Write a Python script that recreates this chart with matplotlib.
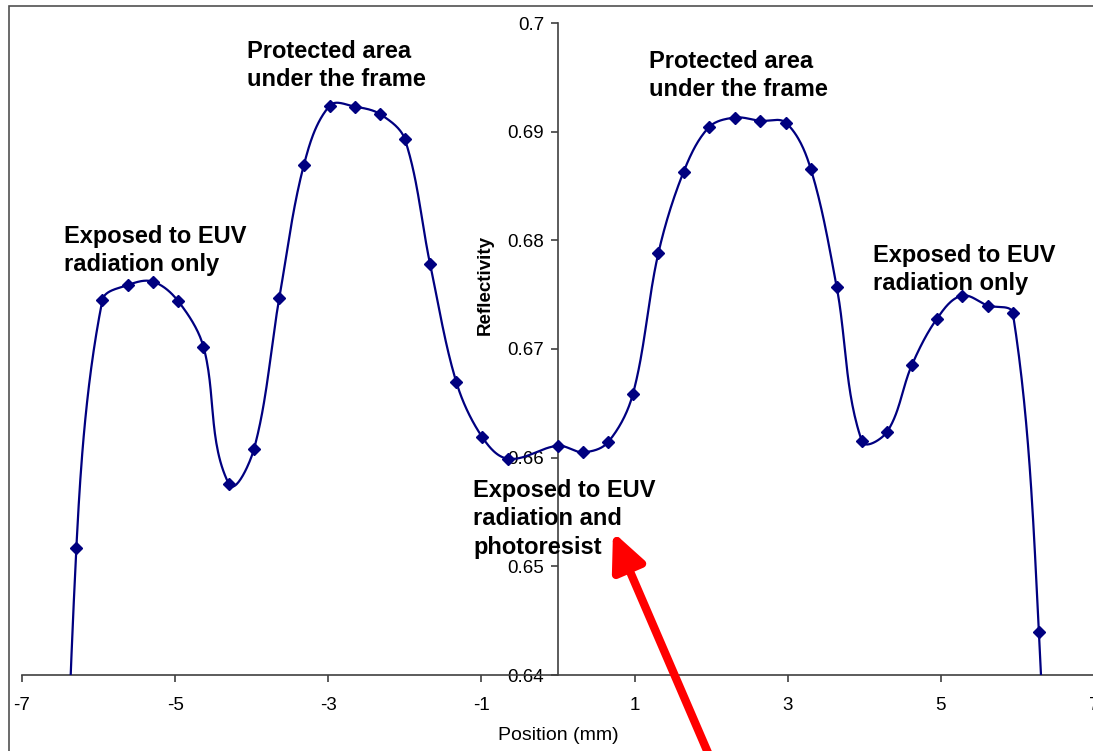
import numpy as np
import matplotlib
matplotlib.use("Agg")
import matplotlib.pyplot as plt
from matplotlib.patches import Rectangle

plt.rcParams['font.family'] = ['Liberation Sans', 'DejaVu Sans']

# --- data ---
position = [-6.29, -5.95, -5.61, -5.29, -4.96, -4.63, -4.30, -3.97, -3.64, -3.32,
            -2.98, -2.65, -2.32, -2.00, -1.67, -1.33, -0.99, -0.65, 0.00, 0.33,
            0.65, 0.98, 1.31, 1.64, 1.97, 2.31, 2.64, 2.98, 3.30, 3.64,
            3.97, 4.30, 4.62, 4.95, 5.27, 5.61, 5.94, 6.28]
reflectivity = [0.6517, 0.6745, 0.6759, 0.6762, 0.6744, 0.6702, 0.6576, 0.6608, 0.6747, 0.6869,
                0.6924, 0.6923, 0.6916, 0.6893, 0.6778, 0.6670, 0.6619, 0.6599, 0.6611, 0.6605,
                0.6614, 0.6659, 0.6788, 0.6863, 0.6904, 0.6913, 0.6910, 0.6908, 0.6866, 0.6757,
                0.6615, 0.6624, 0.6685, 0.6728, 0.6749, 0.6740, 0.6733, 0.6440]
# points off the bottom of the visible range (line runs out of the axis)
edge_pos = [-6.62, 6.61]
edge_refl = [0.58, 0.58]

x_ticks = [-7, -5, -3, -1, 1, 3, 5, 7]
y_ticks = [0.64, 0.65, 0.66, 0.67, 0.68, 0.69, 0.70]
y_labels = ['0.64', '0.65', '0.66', '0.67', '0.68', '0.69', '0.7']


def smooth(xs, ys, sx_scale, sy_scale, n=30):
    # smoothed line like Excel's: cubic Bezier pieces, tangent handles sized by
    # the length of each neighbouring segment (in screen units) to avoid overshoot
    P = np.column_stack([np.asarray(xs) * sx_scale, np.asarray(ys) * sy_scale])
    m = len(P)
    tang = np.zeros_like(P)
    for i in range(m):
        a = P[max(i - 1, 0)]
        b = P[min(i + 1, m - 1)]
        d = b - a
        tang[i] = d / (np.hypot(*d) + 1e-12)
    out = []
    t = np.linspace(0, 1, n)[:, None]
    for i in range(m - 1):
        p1, p2 = P[i], P[i + 1]
        L = np.hypot(*(p2 - p1))
        c1 = p1 + tang[i] * L / 3
        c2 = p2 - tang[i + 1] * L / 3
        seg = ((1 - t) ** 3) * p1 + 3 * ((1 - t) ** 2) * t * c1 + 3 * (1 - t) * t ** 2 * c2 + t ** 3 * p2
        out.append(seg)
    out = np.vstack(out)
    return out[:, 0] / sx_scale, out[:, 1] / sy_scale


all_x = [edge_pos[0]] + position + [edge_pos[1]]
all_y = [edge_refl[0]] + reflectivity + [edge_refl[1]]
# screen scale: ~76.6 px per mm, ~108.7 px per 0.01 reflectivity
sx, sy = smooth(all_x, all_y, 76.6, 10870)

fig = plt.figure(figsize=(10.93, 7.51), dpi=100)
ax = fig.add_axes([22 / 1093, 76 / 751, 1072 / 1093, 652 / 751])

ax.plot(sx, sy, color='#000080', lw=1.6, zorder=3)
ax.plot(position, reflectivity, linestyle='none', marker='D', ms=6,
        color='#000080', zorder=4)

ax.set_xlim(-7, 7)
ax.set_ylim(0.64, 0.70)

for s in ['top', 'right']:
    ax.spines[s].set_visible(False)
ax.spines['left'].set_position(('data', 0))
ax.spines['bottom'].set_position(('data', 0.64))
for s in ['left', 'bottom']:
    ax.spines[s].set_color('#404040')
    ax.spines[s].set_linewidth(1.2)

ax.set_xticks(x_ticks)
ax.set_xticklabels([str(v) for v in x_ticks])
ax.set_yticks(y_ticks)
ax.set_yticklabels(y_labels)
ax.tick_params(axis='x', direction='out', length=5, width=1.2, color='#404040',
               labelsize=13.5, pad=11)
ax.tick_params(axis='y', direction='out', length=5, width=1.2, color='#404040',
               labelsize=13.5, pad=5)

fig.text(558 / 1093, 1 - 735 / 751, 'Position (mm)', ha='center', va='center', fontsize=14)
fig.text(485 / 1093, 1 - 285 / 751, 'Reflectivity', ha='center', va='center',
         rotation=90, fontsize=13.5, fontweight='bold')

# --- annotations ---
kw = dict(fontsize=17, fontweight='bold', ha='left', va='top', linespacing=1.3,
          transform=fig.transFigure)
fig.text(247 / 1093, 1 - 40 / 751, 'Protected area\nunder the frame', **kw)
fig.text(649 / 1093, 1 - 50 / 751, 'Protected area\nunder the frame', **kw)
fig.text(64 / 1093, 1 - 225 / 751, 'Exposed to EUV\nradiation only', **kw)
fig.text(873 / 1093, 1 - 244 / 751, 'Exposed to EUV\nradiation only', **kw)
fig.text(473 / 1093, 1 - 479 / 751, 'Exposed to EUV\nradiation and\nphotoresist', **kw)

ax.annotate('', xy=(613, 751 - 532), xytext=(724, 751 - 790), xycoords='figure pixels',
            textcoords='figure pixels', annotation_clip=False,
            arrowprops=dict(arrowstyle='-|>,head_length=1.3,head_width=0.6', color='red',
                            lw=6, mutation_scale=17, shrinkA=0, shrinkB=0))

# chart area border (cut at right and bottom in the original)
fig.patches.append(Rectangle((9 / 1093, -0.1), 1.2, 1.1 - 6 / 751, transform=fig.transFigure,
                             fill=False, edgecolor='#505050', lw=1.2))

fig.savefig('out.png', dpi=100)
